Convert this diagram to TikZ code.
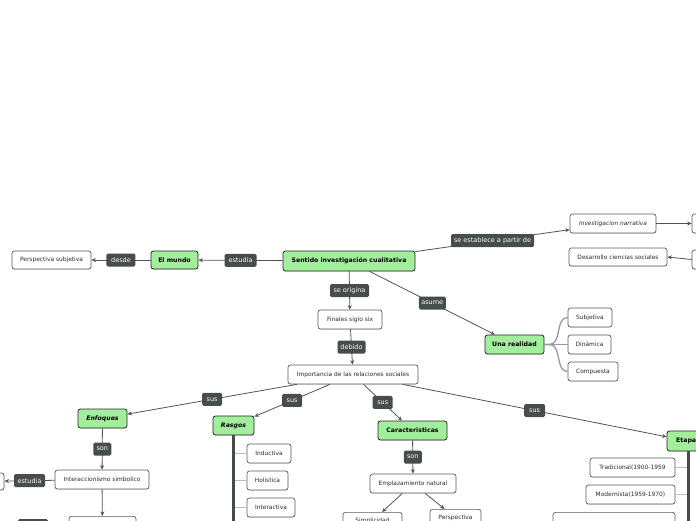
\documentclass[tikz,border=0pt]{standalone}
\usepackage{fontspec}
\newfontfamily\dv{DejaVu Sans}
\usetikzlibrary{arrows.meta,shadows}
\definecolor{gfill}{HTML}{A3EE9C}
\definecolor{lblfill}{HTML}{474C4C}
\definecolor{linec}{HTML}{4F5555}
\definecolor{boxborder}{HTML}{5A5A5A}
\definecolor{txt}{HTML}{2A2A2A}
\definecolor{branchc}{HTML}{BBBBBB}
\definecolor{forkc}{HTML}{999999}
\definecolor{trunkc}{HTML}{454A4A}
\begin{document}
\begin{tikzpicture}[x=1pt,y=-1pt,
  shad/.style={drop shadow={shadow xshift=0pt,shadow yshift=-0.8pt,opacity=0.2}},
  box/.style={draw=boxborder, fill=white, rounded corners=2.5pt, line width=0.7pt, text=txt,
    font=\dv\fontsize{5.9}{6.8}\selectfont, inner sep=0pt, minimum height=19pt, shad},
  gbox/.style={draw=black!85, fill=gfill, rounded corners=2.5pt, line width=0.8pt, text=black,
    font=\dv\bfseries\fontsize{6.2}{7}\selectfont, inner sep=0pt, minimum height=19pt, shad},
  lbl/.style={fill=lblfill, text=white, rounded corners=1.5pt,
    font=\dv\fontsize{6.5}{7.5}\selectfont, inner sep=0pt, minimum height=13pt},
  conn/.style={draw=linec, line width=0.8pt, -{Stealth[length=4.5pt,width=4pt]}},
  fork/.style={draw=forkc, line width=1.3pt},
  branchline/.style={draw=branchc, line width=1pt},
  trunk/.style={draw=trunkc, line width=3pt},
]
\useasboundingbox (0,0) rectangle (696,520);
\clip (0,0) rectangle (696,520);

% green nodes
\node[gbox, minimum width=132pt, minimum height=20pt] (sent) at (349,261) {Sentido investigación cualitativa};
\node[gbox, minimum width=47pt, minimum height=18pt] (mundo) at (174.5,260) {El mundo};
\node[gbox, minimum width=59pt] (ureal) at (514.5,344.5) {Una realidad};
\node[gbox, minimum width=49pt, font=\dv\bfseries\itshape\fontsize{6.2}{7}\selectfont] (enfoq) at (102.5,418.5) {Enfoques};
\node[gbox, minimum width=41pt, font=\dv\bfseries\itshape\fontsize{6.2}{7}\selectfont] (rasgos) at (233.5,425.5) {Rasgos};
\node[gbox, minimum width=69pt] (carac) at (412.5,430.5) {Caracteristicas};
\node[gbox, minimum width=42pt, minimum height=20pt] (etapas) at (688,441) {Etapas};

% white nodes
\node[box, minimum width=79pt, minimum height=18pt] (persp) at (51.5,260) {Perspectiva subjetiva};
\node[box, minimum width=86pt, font=\dv\itshape\fontsize{5.9}{6.8}\selectfont] (invnar) at (613,223.5) {Investigacion narrativa};
\node[box, minimum width=98pt, minimum height=18pt] (desarr) at (618,257) {Desarrollo ciencias sociales};
\node[box, minimum width=56pt] (rn1) at (720,223.5) {};
\node[box, minimum width=56pt] (rn2) at (720,259.5) {};
\node[box, minimum width=64pt] (finales) at (350,319.5) {Finales siglo six};
\node[box, minimum width=44pt] (subj) at (590,317.5) {Subjetiva};
\node[box, minimum width=43pt] (dinam) at (589.5,344.5) {Dinámica};
\node[box, minimum width=50pt] (comp) at (593,371.5) {Compuesta};
\node[box, minimum width=130pt] (import) at (353,374.5) {Importancia de las relaciones sociales};
\node[box, minimum width=94pt] (interacc) at (102,479.5) {Interaccionismo simbolico};
\node[box, minimum width=48pt, minimum height=17pt] (leftn) at (-20,481.5) {};
\node[box, minimum width=67pt, anchor=north] (belown) at (102.5,516) {};
\node[lbl, minimum width=30pt, anchor=north] (darkbit) at (33,519) {};
\node[box, minimum width=44pt] (induct) at (269,453.5) {Inductiva};
\node[box, minimum width=41pt] (holist) at (267.5,480.5) {Holistica};
\node[box, minimum width=48pt] (interact) at (271,507.5) {Interactiva};
\node[box, minimum width=86pt] (emplaz) at (413,483.5) {Emplazamiento natural};
\node[box, minimum width=59pt, minimum height=17pt, anchor=north] (simpl) at (372.5,512) {Simplicidad};
\node[box, minimum width=51pt, minimum height=17pt, anchor=north] (perspec) at (455.5,509) {Perspectiva};
\node[box, minimum width=85pt] (trad) at (632.5,467.5) {Tradicional(1900-1959};
\node[box, minimum width=89pt] (modern) at (630.5,494.5) {Modernista(1959-1970)};
\node[box, minimum width=122pt, anchor=north] (etapa3) at (614,512) {};

\coordinate (rasgosend) at (233.5,540);
\coordinate (etapasend) at (688,540);

% connectors with labels
\draw[conn] (sent) -- node[lbl, minimum width=32pt]{estudia} (mundo);
\draw[conn] (mundo) -- node[lbl, minimum width=29pt]{desde} (persp);
\draw[conn] (sent) -- node[lbl, minimum width=83pt]{se establece a partir de} (invnar);
\draw[conn] (invnar) -- (rn1);
\draw[conn] (rn2.west) -- (desarr.east);
\draw[conn] (sent) -- node[lbl, minimum width=39pt]{se origina} (finales);
\draw[conn] (sent) -- node[lbl, minimum width=27pt]{asume} (ureal);
\draw[conn] (finales) -- node[lbl, minimum width=28pt]{debido} (import);
\draw[conn] (import) -- node[lbl, minimum width=20pt]{sus} (enfoq);
\draw[conn] (import) -- node[lbl, minimum width=20pt]{sus} (rasgos);
\draw[conn] (import) -- node[lbl, minimum width=20pt]{sus} (carac);
\draw[conn] (import) -- node[lbl, minimum width=21pt]{sus} (etapas);
\draw[conn] (enfoq) -- node[lbl, minimum width=18pt]{son} (interacc);
\draw[conn] (interacc) -- node[lbl, minimum width=31pt]{estudia} (leftn);
\draw[conn] (interacc) -- (belown);
\draw[conn] (carac) -- node[lbl, minimum width=18pt]{son} (emplaz);
\draw[conn] (emplaz) -- (simpl);
\draw[conn] (emplaz) -- (perspec);

% fork from Una realidad
\draw[fork] (ureal.east) -- ++(5,0) to[out=0,in=180] (subj.west);
\draw[fork] (ureal.east) -- (dinam.west);
\draw[fork] (ureal.east) -- ++(5,0) to[out=0,in=180] (comp.west);

% trunks
\draw[branchline] (induct.west) -- (induct.west -| rasgos.south);
\draw[branchline] (holist.west) -- (holist.west -| rasgos.south);
\draw[branchline] (interact.west) -- (interact.west -| rasgos.south);
\draw[trunk] (rasgos.south) -- (rasgosend);
\draw[branchline] (trad.east) -- (trad.east -| etapas.south);
\draw[branchline] (modern.east) -- (modern.east -| etapas.south);
\draw[branchline] (etapa3.east) -- (etapa3.east -| etapas.south);
\draw[trunk] (etapas.south) -- (etapasend);
\end{tikzpicture}
\end{document}
